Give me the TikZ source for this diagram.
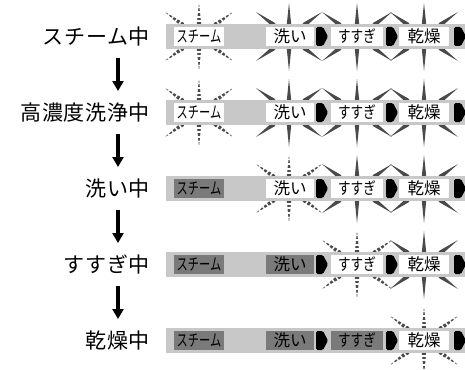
\documentclass[tikz,border=0pt]{standalone}
\usepackage{fontspec}
\newfontfamily\jp{Noto Sans CJK JP}
\newfontfamily\jplab[LetterSpace=3]{Noto Sans CJK JP}
\usetikzlibrary{calc,arrows.meta}
\definecolor{barcol}{HTML}{C8C8C8}
\definecolor{darkbox}{HTML}{7A7A7A}
\definecolor{raycol}{HTML}{4A4A4A}
\tikzset{
  lab/.style={anchor=east,inner sep=0pt,font=\jplab\fontsize{21}{21}\selectfont},
  seg/.style={inner sep=0pt,minimum height=19pt,font=\jp\fontsize{16.5}{16.5}\selectfont,text=black},
  segW/.style={seg,fill=white},
  segG/.style={seg,fill=darkbox},
  flowarrow/.style={-{Triangle[width=11pt,length=10pt]},line width=4pt,black}
}
\newcommand\ray[5]{%
  \coordinate (rb) at (#2,#3);\coordinate (rt) at (#4,#5);
  \ifx S#1
    \fill[raycol] ($(rb)!2.3pt!90:(rt)$) -- ($(rb)!2.3pt!-90:(rt)$) -- (rt) -- cycle;
  \else
    \begin{scope}
      \clip ($(rb)!2.3pt!90:(rt)$) -- ($(rb)!2.3pt!-90:(rt)$) -- (rt) -- cycle;
      \draw[raycol,line width=6pt,dash pattern=on 2.8pt off 1.8pt] (rb) -- (rt);
    \end{scope}
  \fi}
% type, cx, x0, x1, row centre
\newcommand\burst[5]{%
  \pgfmathsetmacro\yt{#5-12.5}\pgfmathsetmacro\yb{#5+12.5}%
  \pgfmathsetmacro\ytA{\yt+1}\pgfmathsetmacro\ytB{\yt-21}%
  \pgfmathsetmacro\ybA{\yb-1}\pgfmathsetmacro\ybB{\yb+22}%
  \pgfmathsetmacro\ytC{\yt+1}\pgfmathsetmacro\ytD{\yt-12}%
  \pgfmathsetmacro\ybC{\yb-1}\pgfmathsetmacro\ybD{\yb+12}%
  \pgfmathsetmacro\xl{#3+9}\pgfmathsetmacro\xL{#3-9}%
  \pgfmathsetmacro\xr{#4-9}\pgfmathsetmacro\xR{#4+9}%
  \ray{#1}{#2}{\ytA}{#2}{\ytB}%
  \ray{#1}{#2}{\ybA}{#2}{\ybB}%
  \ray{#1}{\xl}{\ytC}{\xL}{\ytD}%
  \ray{#1}{\xr}{\ytC}{\xR}{\ytD}%
  \ray{#1}{\xl}{\ybC}{\xL}{\ybD}%
  \ray{#1}{\xr}{\ybC}{\xR}{\ybD}%
}
% black pointer: x0, centre y, name
\newcommand\pointer[3]{%
  \fill[black,rounded corners=1.5pt] (#1,#2-9.5) -- (#1+7,#2-9.5) -- (#1+12,#2) -- (#1+7,#2+9.5) -- (#1,#2+9.5) -- cycle;
  \coordinate (#3) at (#1+6,#2);}
\newcommand\burstif[5]{\ifx G#1\else\burst{#1}{#2}{#3}{#4}{#5}\fi}
\newcommand\segst[1]{\ifx G#1G\else W\fi}
% row: name, centre, states (4)
\newcommand\barrow[6]{%
  \burstif{#3}{199}{174}{224}{#2}%
  \burstif{#4}{289}{265}{313}{#2}%
  \burstif{#5}{357}{331}{383}{#2}%
  \burstif{#6}{424}{399}{449}{#2}%
  \fill[barcol] (166,#2-12.5) rectangle (466,#2+12.5);
  \node[seg\segst{#3},minimum width=50pt] (#1a) at (199,#2) {\scalebox{0.68}[1]{スチーム}};
  \node[seg\segst{#4},minimum width=48pt] (#1b) at (290,#2) {洗い};
  \node[seg\segst{#5},minimum width=52pt] (#1c) at (357,#2) {\scalebox{0.76}[1]{すすぎ}};
  \node[seg\segst{#6},minimum width=50pt] (#1d) at (424,#2) {乾燥};
  \pointer{316}{#2}{#1p1}\pointer{386}{#2}{#1p2}\pointer{454}{#2}{#1p3}%
}
\begin{document}
\begin{tikzpicture}[x=1pt,y=-1pt]
\useasboundingbox (0,0) rectangle (465,369);
\fill[white] (0,0) rectangle (465,369);
\begin{scope}
\clip (0,0) rectangle (465,369);
\barrow{r1}{36.5}{D}{S}{S}{S}
\barrow{r2}{112.5}{D}{S}{S}{S}
\barrow{r3}{188.5}{G}{D}{S}{S}
\barrow{r4}{264.5}{G}{G}{D}{S}
\barrow{r5}{340.5}{G}{G}{G}{D}
\end{scope}
\node[lab] (l1) at (150,36.5) {スチーム中};
\node[lab] (l2) at (150,112.5) {高濃度洗浄中};
\node[lab] (l3) at (150,188.5) {洗い中};
\node[lab] (l4) at (150,264.5) {すすぎ中};
\node[lab] (l5) at (150,340.5) {乾燥中};
\foreach \k in {1,2,3,4}{
  \pgfmathsetmacro\m{74.5+76*(\k-1)}
  \coordinate (a\k s) at (118,\m-16.5);
  \coordinate (a\k e) at (118,\m+16.5);
  \draw[flowarrow] (a\k s) -- (a\k e);
}
\end{tikzpicture}
\end{document}
